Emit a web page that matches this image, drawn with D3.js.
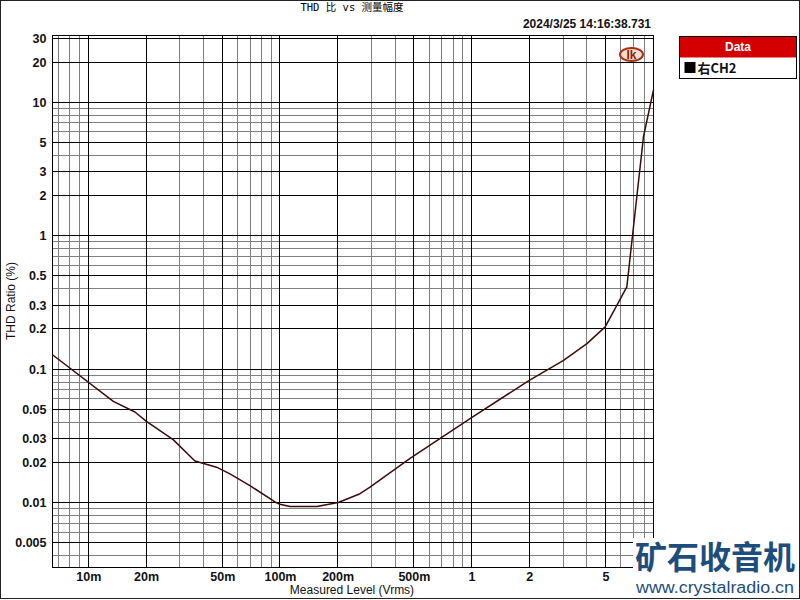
<!DOCTYPE html>
<html>
<head>
<meta charset="utf-8">
<script src="https://cdn.jsdelivr.net/npm/d3@7"></script>
<style>
  html, body { margin: 0; padding: 0; background: #fff; }
  svg { display: block; }
  text { font-family: "Liberation Sans", Arial, sans-serif; }
</style>
</head>
<body>
<div id="chart"></div>
<script>
// data (level in Vrms, THD in %)
const levels = [0.0065, 0.0135, 0.0175, 0.0201, 0.0277, 0.036, 0.0467, 0.0548, 0.0697, 0.0942,
  0.1, 0.1128, 0.1555, 0.2016, 0.2616, 0.295, 0.4775, 1.0, 2.0, 3.02, 4.0, 4.98, 6.46, 7.89, 8.9]
const thd = [0.128, 0.0573, 0.0477, 0.0406, 0.0296, 0.0205, 0.0184, 0.0164, 0.0134, 0.0101,
  0.0097, 0.00935, 0.00935, 0.0100, 0.01164, 0.01305, 0.0214, 0.0433, 0.0824, 0.1164, 0.1553, 0.207, 0.413, 5.51, 12.35]

const xTicks = [0.01, 0.02, 0.05, 0.1, 0.2, 0.5, 1, 2, 5]
const xLabels = ['10m', '20m', '50m', '100m', '200m', '500m', '1', '2', '5']
const xMinor = [0.007, 0.008, 0.009, 0.03, 0.04, 0.06, 0.07, 0.08, 0.09,
  0.3, 0.4, 0.6, 0.7, 0.8, 0.9, 3, 4, 6, 7, 8]
const yTicks = [30, 20, 10, 5, 3, 2, 1, 0.5, 0.3, 0.2, 0.1, 0.05, 0.03, 0.02, 0.01, 0.005]
const yLabels = ['30', '20', '10', '5', '3', '2', '1', '0.5', '0.3', '0.2', '0.1', '0.05', '0.03', '0.02', '0.01', '0.005']
const yMinor = [9, 8, 7, 6, 4, 0.9, 0.8, 0.7, 0.6, 0.4, 0.09, 0.08, 0.07, 0.06, 0.04,
  0.009, 0.008, 0.007, 0.006, 0.004]

const width = 800
const height = 600
const plot = { left: 52.5, right: 653.5, top: 35.5, bottom: 567.5 }

const svg = d3.select('#chart').append('svg')
  .attr('width', width)
  .attr('height', height)

const x = d3.scaleLog()
  .domain([0.0065, 8.9])
  .range([plot.left, plot.right])

const y = d3.scaleLog()
  .domain([0.00326, 31.6])
  .range([plot.bottom, plot.top])

const plotW = plot.right - plot.left
const plotH = plot.bottom - plot.top
const snap = v => Math.round(v - 0.5) + 0.5

// grid lines, drawn with axes of full plot size
const xg = (values, color) => {
  const g = svg.append('g')
    .attr('transform', `translate(0, ${plot.bottom})`)
    .call(d3.axisBottom(x).tickValues(values).tickSize(-plotH).tickFormat(''))
  g.select('.domain').remove()
  g.selectAll('.tick').attr('transform', d => `translate(${snap(x(d))}, 0)`)
  g.selectAll('.tick line').attr('stroke', color).attr('shape-rendering', 'crispEdges')
}

const yg = (values, color) => {
  const g = svg.append('g')
    .attr('transform', `translate(${plot.left}, 0)`)
    .call(d3.axisLeft(y).tickValues(values).tickSize(-plotW).tickFormat(''))
  g.select('.domain').remove()
  g.selectAll('.tick').attr('transform', d => `translate(0, ${snap(y(d))})`)
  g.selectAll('.tick line').attr('stroke', color).attr('shape-rendering', 'crispEdges')
}

xg(xMinor, '#808080')
yg(yMinor, '#808080')
xg(xTicks, '#000')
yg(yTicks, '#000')

svg.append('rect')
  .attr('x', plot.left).attr('y', plot.top)
  .attr('width', plotW).attr('height', plotH)
  .attr('fill', 'none').attr('stroke', '#000')
  .attr('shape-rendering', 'crispEdges')

// tick labels
const yAxis = svg.append('g')
  .attr('transform', `translate(${plot.left}, 0)`)
  .call(d3.axisLeft(y).tickValues(yTicks).tickSize(0).tickPadding(6)
    .tickFormat((d, i) => yLabels[i]))
yAxis.select('.domain').remove()
yAxis.selectAll('.tick text')
  .attr('fill', '#111')
  .style('font-family', '"Liberation Sans", Arial, sans-serif')
  .style('font-size', '12.5px')
  .style('font-weight', 'bold')

const xAxis = svg.append('g')
  .attr('transform', `translate(0, ${plot.bottom})`)
  .call(d3.axisBottom(x).tickValues(xTicks).tickSize(0).tickPadding(5)
    .tickFormat((d, i) => xLabels[i]))
xAxis.select('.domain').remove()
xAxis.selectAll('.tick text')
  .attr('fill', '#111')
  .style('font-family', '"Liberation Sans", Arial, sans-serif')
  .style('font-size', '12.5px')
  .style('font-weight', 'bold')

// curve
const line = d3.line()
  .x(d => x(d[0]))
  .y(d => y(d[1]))

svg.append('path')
  .datum(d3.zip(levels, thd))
  .attr('d', line)
  .attr('fill', 'none')
  .attr('stroke', '#3d0b0b')
  .attr('stroke-width', 1.5)
  .attr('stroke-linejoin', 'round')

// titles
svg.append('text')
  .attr('x', 352).attr('y', 11)
  .attr('text-anchor', 'middle')
  .style('font-family', '"DejaVu Sans Mono", "Noto Sans CJK SC", monospace')
  .style('font-size', '10.5px')
  .attr('fill', '#000')
  .text('THD 比 vs 测量幅度')

svg.append('text')
  .attr('x', 651).attr('y', 28)
  .attr('text-anchor', 'end')
  .style('font-size', '12px')
  .style('font-weight', 'bold')
  .attr('fill', '#111')
  .text('2024/3/25 14:16:38.731')

svg.append('text')
  .attr('transform', 'translate(15, 301) rotate(-90)')
  .attr('text-anchor', 'middle')
  .style('font-size', '12px')
  .attr('fill', '#111')
  .text('THD Ratio (%)')

svg.append('text')
  .attr('x', 352).attr('y', 594)
  .attr('text-anchor', 'middle')
  .style('font-size', '12px')
  .attr('fill', '#111')
  .text('Measured Level (Vrms)')

// logo
svg.append('ellipse')
  .attr('cx', 631.5).attr('cy', 54.5)
  .attr('rx', 11.5).attr('ry', 6.5)
  .attr('fill', '#f6ddd2')
  .attr('stroke', '#a8300e')
  .attr('stroke-width', 2)
svg.append('text')
  .attr('x', 631.5).attr('y', 59)
  .attr('text-anchor', 'middle')
  .style('font-size', '12px')
  .style('font-weight', 'bold')
  .attr('fill', '#8a1c00')
  .text('Ik')

// legend
const legend = svg.append('g').attr('transform', 'translate(679.5, 36.5)')
legend.append('rect')
  .attr('width', 117).attr('height', 42)
  .attr('fill', '#fff').attr('stroke', '#000')
legend.append('rect')
  .attr('x', 0.5).attr('y', 0.5)
  .attr('width', 116).attr('height', 20.5)
  .attr('fill', '#d40000')
legend.append('text')
  .attr('x', 58.5).attr('y', 14.5)
  .attr('text-anchor', 'middle')
  .style('font-size', '12px')
  .style('font-weight', 'bold')
  .attr('fill', '#fff')
  .text('Data')
legend.append('rect')
  .attr('x', 5).attr('y', 25.5)
  .attr('width', 11).attr('height', 11)
  .attr('fill', '#000')
legend.append('text')
  .attr('x', 18).attr('y', 36)
  .style('font-family', '"Noto Sans CJK SC", sans-serif')
  .style('font-size', '13px')
  .style('font-weight', 'bold')
  .attr('fill', '#111')
  .text('右CH2')

// watermark
svg.append('rect')
  .attr('x', 633).attr('y', 538)
  .attr('width', 166).attr('height', 60)
  .attr('fill', '#fff')
svg.append('text')
  .attr('x', 635).attr('y', 569)
  .attr('textLength', 160)
  .attr('lengthAdjust', 'spacingAndGlyphs')
  .style('font-family', '"Noto Sans CJK SC", sans-serif')
  .style('font-size', '32px')
  .style('font-weight', 'bold')
  .attr('fill', '#1d4d7c')
  .text('矿石收音机')
svg.append('text')
  .attr('x', 636).attr('y', 593)
  .attr('textLength', 158)
  .attr('lengthAdjust', 'spacingAndGlyphs')
  .style('font-size', '16px')
  .attr('fill', '#1d4d7c')
  .text('www.crystalradio.cn')

// frame
svg.append('rect')
  .attr('x', 0.5).attr('y', 0.5)
  .attr('width', 799).attr('height', 598)
  .attr('fill', 'none').attr('stroke', '#222')
</script>
</body>
</html>
